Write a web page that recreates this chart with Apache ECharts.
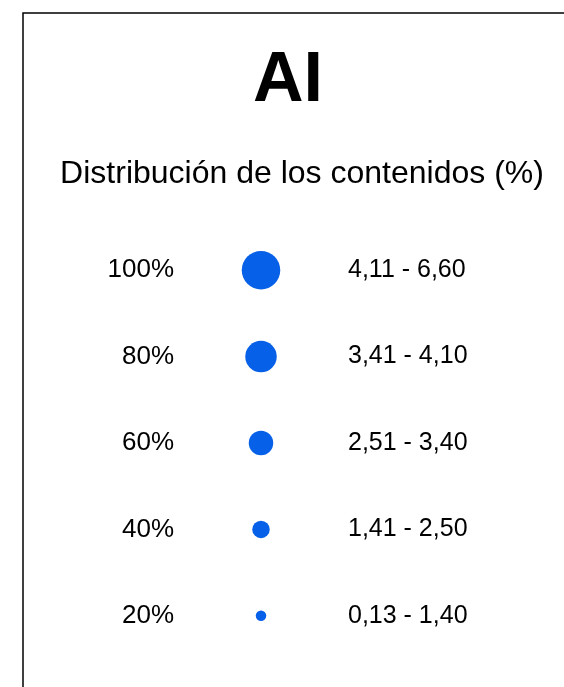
<!DOCTYPE html>
<html lang="es">
<head>
    <meta http-equiv="Content-Type" content="text/html; charset=utf-8">
    <script type="text/javascript" src="https://cdn.jsdelivr.net/npm/echarts@6/dist/echarts.min.js"></script>
    <title>AI</title>
    <style>
        html, body { margin: 0; padding: 0; background: #fff; }
        #main { width: 564px; height: 687px; }
    </style>
</head>
<body>
<div id="main"></div>
<script>
// categorias de abajo hacia arriba
const percentages = ['20%', '40%', '60%', '80%', '100%'];
const percentValues = [20, 40, 60, 80, 100];
const ranges = ['0,13 - 1,40', '1,41 - 2,50', '2,51 - 3,40', '3,41 - 4,10', '4,11 - 6,60'];
const titleText = 'AI';
const subtitleText = 'Distribución de los contenidos (%)';

const font = "'Liberation Sans', Arial, sans-serif";
const chart = echarts.init(document.getElementById('main'));

const points = percentValues.map(function (v, i) {
    return [0.5, i, v];
});

const option = {
    backgroundColor: '#fff',
    animation: false,
    graphic: [
        {
            type: 'rect',
            shape: { x: 23, y: 13, width: 560, height: 700 },
            style: { fill: 'none', stroke: '#000', lineWidth: 1.5 }
        },
        {
            type: 'text',
            x: 288, y: 82,
            style: {
                text: titleText,
                font: 'bold 70px ' + font,
                fill: '#000',
                textAlign: 'center',
                textVerticalAlign: 'middle'
            }
        },
        {
            type: 'text',
            x: 302, y: 174,
            style: {
                text: subtitleText,
                font: '32px ' + font,
                fill: '#000',
                textAlign: 'center',
                textVerticalAlign: 'middle'
            }
        }
    ],
    grid: { left: 200, right: 242, top: 227, bottom: 28 },
    xAxis: { type: 'value', min: 0, max: 1, show: false },
    yAxis: [
        {
            type: 'category',
            data: percentages,
            position: 'left',
            axisLine: { show: false },
            axisTick: { show: false },
            splitLine: { show: false },
            axisLabel: { margin: 26, fontSize: 26, color: '#000', fontFamily: font }
        },
        {
            type: 'category',
            data: ranges,
            position: 'right',
            axisLine: { show: false },
            axisTick: { show: false },
            splitLine: { show: false },
            axisLabel: { margin: 26, fontSize: 25, color: '#000', fontFamily: font }
        }
    ],
    visualMap: {
        show: false,
        dimension: 2,
        min: 20,
        max: 100,
        inRange: { symbolSize: [10.5, 38.5] }
    },
    series: [
        {
            type: 'scatter',
            yAxisIndex: 0,
            data: points,
            itemStyle: { color: '#0760E8', opacity: 1 }
        }
    ]
};
chart.setOption(option);
</script>
</body>
</html>
